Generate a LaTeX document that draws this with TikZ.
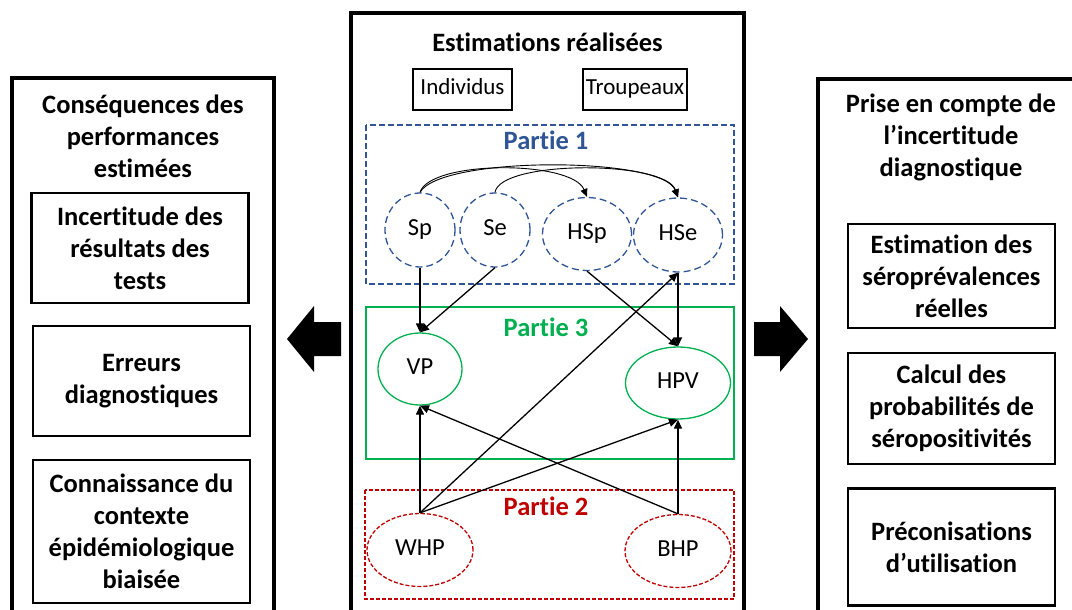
\documentclass[tikz,border=0pt]{standalone}
\usepackage{fontspec}
\setmainfont{Carlito}[Ligatures=NoCommon]
\usetikzlibrary{shapes.geometric,arrows.meta}
\definecolor{pblue}{RGB}{47,85,151}
\definecolor{pgreen}{RGB}{0,176,80}
\definecolor{pred}{RGB}{192,0,0}
\begin{document}
\begin{tikzpicture}[x=1pt,y=-1pt,
  panel/.style={draw, line width=3.4pt},
  big/.style={font=\bfseries\fontsize{26.5}{32}\selectfont, align=center},
  small/.style={font=\fontsize{23}{28}\selectfont, text height=15pt, text depth=5pt},
  ibox/.style={draw, line width=2.2pt, big, inner sep=0pt, minimum width=217pt},
  tagbox/.style={draw, line width=1.3pt, small, inner sep=0pt, minimum height=41pt},
  ell/.style={ellipse, draw, line width=1.3pt, small, font=\fontsize{24.5}{28}\selectfont, inner sep=0pt},
  bell/.style={ell, pblue, text=black, dash pattern=on 7pt off 4pt},
  gell/.style={ell, pgreen, text=black},
  rell/.style={ell, pred, text=black, dash pattern=on 4pt off 2pt},
  ptitle/.style={font=\bfseries\fontsize{26.5}{32}\selectfont},
  arr/.style={-{Triangle[length=9pt,width=8pt]}, line width=1.3pt},
  arc/.style={-{Triangle[length=8pt,width=7pt]}, line width=0.9pt},
  blockarrow/.style={fill=black}
]
\useasboundingbox (0,0) rectangle (1072,610);
\clip (0,0) rectangle (1072,610);

% panels
\draw[panel] (12,78) rectangle (274,640);
\draw[panel] (351,13) rectangle (744,640);
\draw[panel] (818,79) rectangle (1090,640);

% left panel
\node[big] (ltitle) at (143,136) {Conséquences des\\performances\\estimées};
\node[ibox, minimum height=110pt] (l1) at (140,248) {Incertitude des\\résultats des\\tests};
\node[ibox, minimum height=110pt] (l2) at (141.5,381) {Erreurs\\diagnostiques};
\node[ibox, minimum height=143pt] (l3) at (141.5,531.5) {Connaissance du\\contexte\\épidémiologique\\biaisée};

% right panel
\node[big] (rtitle) at (951,137) {Prise en compte de\\l’incertitude\\diagnostique};
\node[ibox, minimum width=207pt, minimum height=104pt] (r1) at (951.5,276) {Estimation des\\séroprévalences\\réelles};
\node[ibox, minimum width=207pt, minimum height=111pt] (r2) at (951.5,408.5) {Calcul des\\probabilités de\\séropositivités};
\node[ibox, minimum width=207pt, minimum height=117pt] (r3) at (951.5,547) {Préconisations\\d’utilisation};

% block arrows
\fill[blockarrow] (287,339) -- (314,306) -- (314,322) -- (341,322) -- (341,356) -- (314,356) -- (314,372) -- cycle;
\fill[blockarrow] (808,339) -- (780,306) -- (780,322) -- (754,322) -- (754,356) -- (780,356) -- (780,372) -- cycle;

% centre panel
\node[big] (ctitle) at (547.5,42) {Estimations réalisées};
\node[tagbox, minimum width=99pt] (ind) at (462.5,89.5) {Individus};
\node[tagbox, minimum width=104pt] (trp) at (635,89.5) {Troupeaux};

\draw[pblue, line width=1.3pt, dash pattern=on 6pt off 3pt] (366,125) rectangle (734,284);
\draw[pgreen, line width=1.3pt] (366,307) rectangle (734,459);
\draw[pred, line width=1.3pt, dash pattern=on 4pt off 2pt] (365,490) rectangle (734,599);

\node[ptitle, text=pblue] (p1) at (546,140) {Partie 1};
\node[ptitle, text=pgreen] (p3) at (546,327) {Partie 3};
\node[ptitle, text=pred] (p2) at (546,506) {Partie 2};

\node[bell, minimum width=70pt, minimum height=74pt] (Sp) at (420,230) {Sp};
\node[bell, minimum width=70pt, minimum height=74pt] (Se) at (495,230) {Se};
\node[bell, minimum width=89pt, minimum height=73pt] (HSp) at (587,234) {HSp};
\node[bell, minimum width=89pt, minimum height=74pt] (HSe) at (678,235) {HSe};
\node[gell, minimum width=84pt, minimum height=72pt] (VP) at (420,369) {VP};
\node[gell, minimum width=105pt, minimum height=72pt] (HPV) at (678,383) {HPV};
\node[rell, minimum width=106pt, minimum height=73pt] (WHP) at (420,550) {WHP};
\node[rell, minimum width=106pt, minimum height=73pt] (BHP) at (678,551) {BHP};

% arcs in Partie 1
\draw[arc] (Sp.north) .. controls (430,160) and (572,160) .. (HSp.north);
\draw[arc] (Sp.north) .. controls (440,156) and (662,156) .. (HSe.north);
\draw[arc] (Se.north) .. controls (500,160) and (665,160) .. (HSe.north);

% arrows
\draw[arr] (Sp.south) -- (VP.north);
\draw[arr] (Se.south) -- (VP.north);
\draw[arr] (HSp.south) -- (HPV.north);
\draw[arr] (HSe.south) -- (HPV.north);
\draw[arr] (WHP.north) -- (HSe.south);
\draw[arr] (WHP.north) -- (VP.south);
\draw[arr] (WHP.north) -- (HPV.south);
\draw[arr] (BHP.north) -- (VP.south);
\draw[arr] (BHP.north) -- (HPV.south);
\end{tikzpicture}
\end{document}
